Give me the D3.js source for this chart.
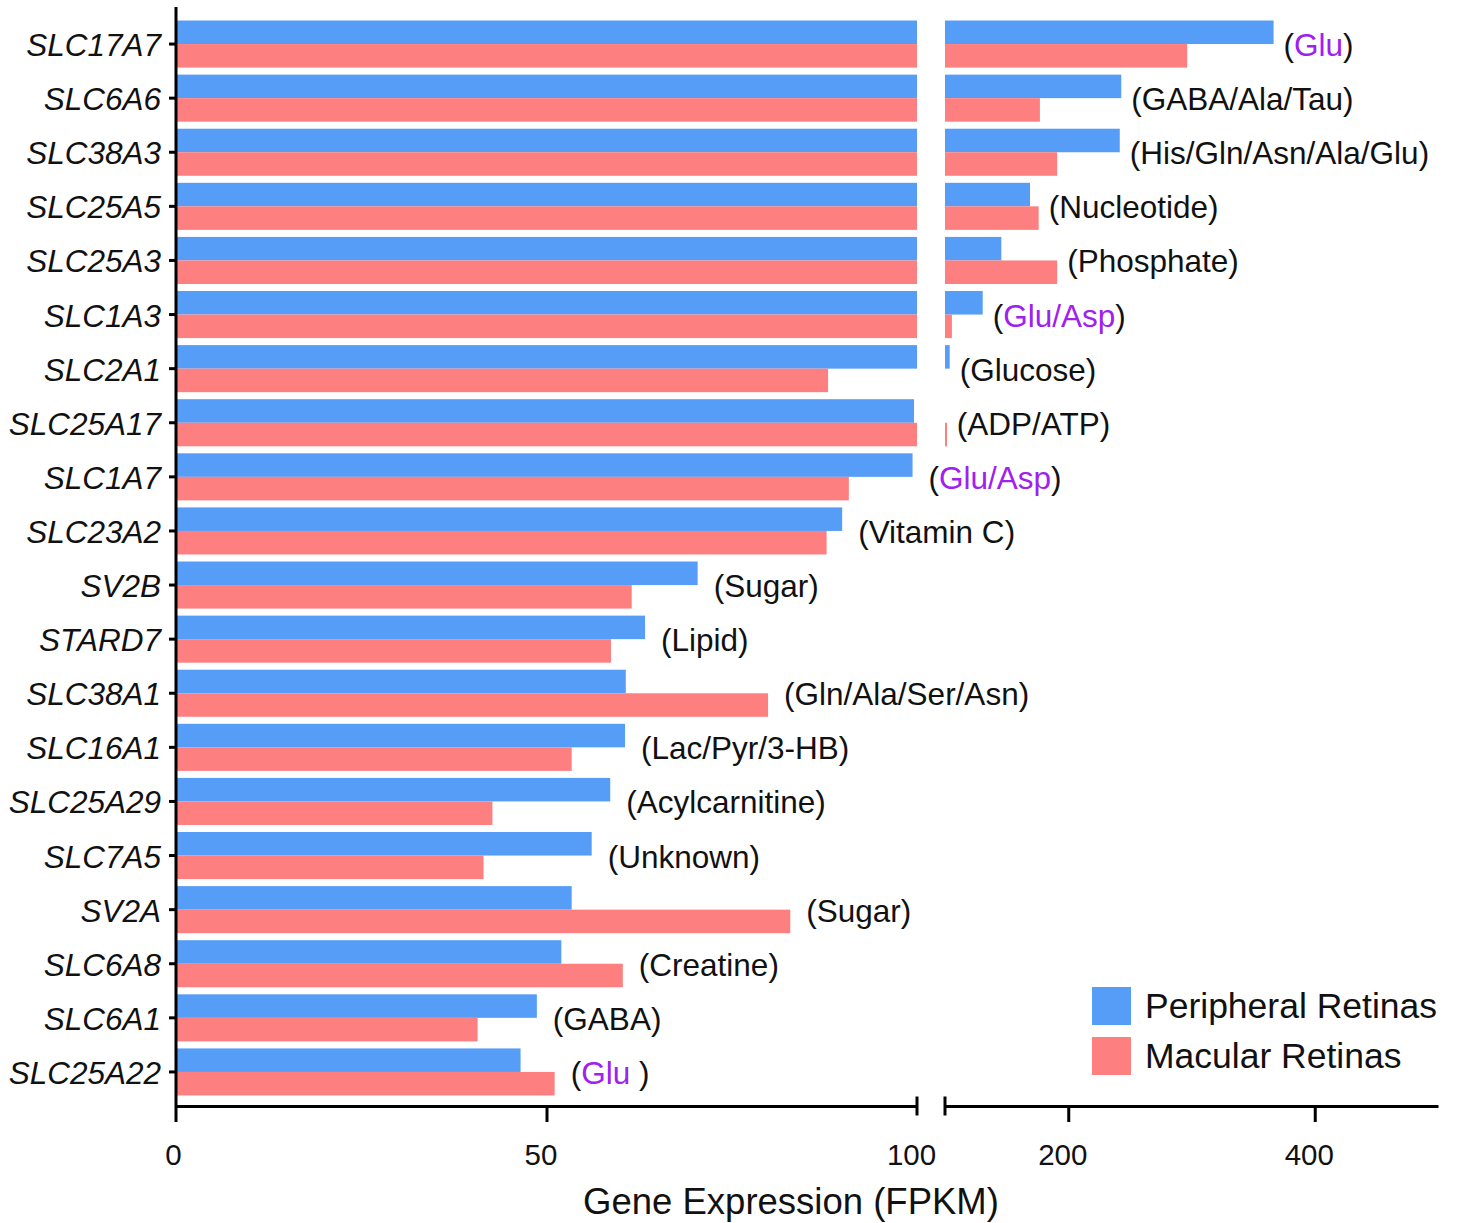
<!DOCTYPE html>
<html>
<head>
<meta charset="utf-8">
<script src="https://cdn.jsdelivr.net/npm/d3@7"></script>
<style>
  html, body { margin: 0; padding: 0; background: #fff; }
  svg { display: block; font-family: "Liberation Sans", Arial, Helvetica, sans-serif; }
</style>
</head>
<body>
<div id="chart"></div>
<script>
const genes = [
  "SLC17A7", "SLC6A6", "SLC38A3", "SLC25A5", "SLC25A3", "SLC1A3", "SLC2A1",
  "SLC25A17", "SLC1A7", "SLC23A2", "SV2B", "STARD7", "SLC38A1", "SLC16A1",
  "SLC25A29", "SLC7A5", "SV2A", "SLC6A8", "SLC6A1", "SLC25A22"
];
const peripheral = [
  366.6, 243, 241.8, 169, 145.7, 130.6, 103.8, 99.6, 99.4, 89.9,
  70.4, 63.3, 60.7, 60.6, 58.6, 56.1, 53.4, 52.0, 48.7, 46.5
];
const macular = [
  296.5, 177, 191, 176, 191, 105.6, 88.0, 101.5, 90.8, 87.8,
  61.5, 58.7, 79.9, 53.4, 42.7, 41.5, 82.9, 60.3, 40.7, 51.1
];
const substrates = [
  "Glu", "GABA/Ala/Tau", "His/Gln/Asn/Ala/Glu", "Nucleotide", "Phosphate", "Glu/Asp",
  "Glucose", "ADP/ATP", "Glu/Asp", "Vitamin C", "Sugar", "Lipid", "Gln/Ala/Ser/Asn",
  "Lac/Pyr/3-HB", "Acylcarnitine", "Unknown", "Sugar", "Creatine", "GABA", "Glu "
];
const highlighted = [true, false, false, false, false, true, false, false, true, false,
  false, false, false, false, false, false, false, false, false, true];
const seriesNames = ["Peripheral Retinas", "Macular Retinas"];
const leftTicks = [0, 50, 100];
const rightTicks = [200, 400];

const width = 1460, height = 1223;
const colors = ["#569df8", "#fe7f7f"];
const purple = "#a020f0";

const axisY = 1106;
const breakAt = 100;

const svg = d3.select("#chart").append("svg")
  .attr("width", width).attr("height", height)
  .attr("viewBox", [0, 0, width, height]);

const xLeft = d3.scaleLinear().domain([0, breakAt]).range([176, 917]);
const xRight = d3.scaleLinear().domain([breakAt, 500]).range([945, 1438]);

const y = d3.scaleBand().domain(genes).range([17, 1099])
  .paddingInner(0.13).paddingOuter(0.065);
const ySub = d3.scaleBand().domain([0, 1]).range([0, y.bandwidth()]);

const rows = genes.map((g, i) => ({
  gene: g,
  values: [peripheral[i], macular[i]],
  label: substrates[i],
  hi: highlighted[i]
}));

// bars, split across the broken axis
const group = svg.append("g").attr("class", "bars")
  .selectAll("g").data(rows).join("g")
  .attr("transform", d => `translate(0,${y(d.gene)})`);

group.selectAll(".bar-left")
  .data(d => d.values.map((v, k) => ({ v, k })))
  .join("rect").attr("class", "bar-left")
  .attr("x", xLeft(0))
  .attr("y", d => ySub(d.k))
  .attr("width", d => xLeft(Math.min(d.v, breakAt)) - xLeft(0))
  .attr("height", ySub.bandwidth())
  .attr("fill", d => colors[d.k]);

group.selectAll(".bar-right")
  .data(d => d.values.map((v, k) => ({ v, k })).filter(e => e.v > breakAt))
  .join("rect").attr("class", "bar-right")
  .attr("x", xRight(breakAt))
  .attr("y", d => ySub(d.k))
  .attr("width", d => Math.max(2, xRight(d.v) - xRight(breakAt)))
  .attr("height", ySub.bandwidth())
  .attr("fill", d => colors[d.k]);

// substrate annotations
const xEnd = v => (v > breakAt ? xRight(v) : xLeft(v));
const ann = svg.append("g").attr("class", "annotations")
  .selectAll("text").data(rows).join("text")
  .attr("x", d => {
    const m = d3.max(d.values);
    return xEnd(m) + (m > breakAt ? 10 : 16);
  })
  .attr("y", d => y(d.gene) + y.bandwidth() / 2 + 1)
  .attr("dominant-baseline", "central")
  .attr("font-size", 31.5)
  .attr("fill", "#111");
ann.append("tspan").text("(");
ann.append("tspan").attr("fill", d => d.hi ? purple : null).text(d => d.label);
ann.append("tspan").text(")");

// y axis
const yAxis = svg.append("g")
  .attr("transform", `translate(${xLeft(0)},0)`)
  .call(d3.axisLeft(y).tickSize(7).tickPadding(8).tickSizeOuter(0));
yAxis.select(".domain").remove();
yAxis.selectAll(".tick line").attr("stroke", "#000").attr("stroke-width", 3);
yAxis.selectAll(".tick text")
  .attr("font-size", 31.5)
  .attr("font-style", "italic")
  .attr("fill", "#111")
  .attr("dy", "0.38em")
  .attr("font-family", "'Liberation Sans', Arial, sans-serif");
svg.append("line")
  .attr("x1", xLeft(0)).attr("x2", xLeft(0))
  .attr("y1", 7).attr("y2", axisY + 16)
  .attr("stroke", "#000").attr("stroke-width", 3);

// x axes (two segments)
function styleX(g) {
  g.select(".domain").attr("stroke-width", 3);
  g.selectAll(".tick line").attr("stroke-width", 3);
  g.selectAll(".tick text")
    .attr("font-size", 29.5)
    .attr("fill", "#111")
    .attr("y", 38)
    .attr("dy", "0.71em")
    .attr("dx", -6);
}
svg.append("g")
  .attr("transform", `translate(0,${axisY})`)
  .call(d3.axisBottom(xLeft).tickValues(leftTicks).tickSize(16).tickSizeOuter(0))
  .call(styleX)
  .call(g => g.selectAll(".tick").filter(d => d === 0 || d === breakAt).select("line").remove())
  .call(g => g.selectAll(".tick").filter(d => d === 0).select("text").attr("dx", -3));

svg.append("g")
  .attr("transform", `translate(0,${axisY})`)
  .call(d3.axisBottom(xRight).tickValues(rightTicks).tickSize(16).tickSizeOuter(0))
  .call(styleX);

// break marks
svg.append("g").selectAll("line")
  .data([xLeft(breakAt), xRight(breakAt)])
  .join("line")
  .attr("x1", d => d).attr("x2", d => d)
  .attr("y1", axisY - 9.5).attr("y2", axisY + 9.5)
  .attr("stroke", "#000").attr("stroke-width", 3);

// axis title
svg.append("text")
  .attr("x", 791).attr("y", 1201)
  .attr("text-anchor", "middle")
  .attr("dominant-baseline", "central")
  .attr("font-size", 36.5)
  .attr("fill", "#111")
  .text("Gene Expression (FPKM)");

// legend
const legend = svg.append("g").attr("transform", "translate(1092,987)")
  .selectAll("g").data(seriesNames).join("g")
  .attr("transform", (d, i) => `translate(0,${i * 50})`);
legend.append("rect")
  .attr("width", 39).attr("height", 38)
  .attr("fill", (d, i) => colors[i]);
legend.append("text")
  .attr("x", 53).attr("y", 19)
  .attr("dominant-baseline", "central")
  .attr("font-size", 35.5)
  .attr("fill", "#111")
  .text(d => d);
</script>
</body>
</html>
